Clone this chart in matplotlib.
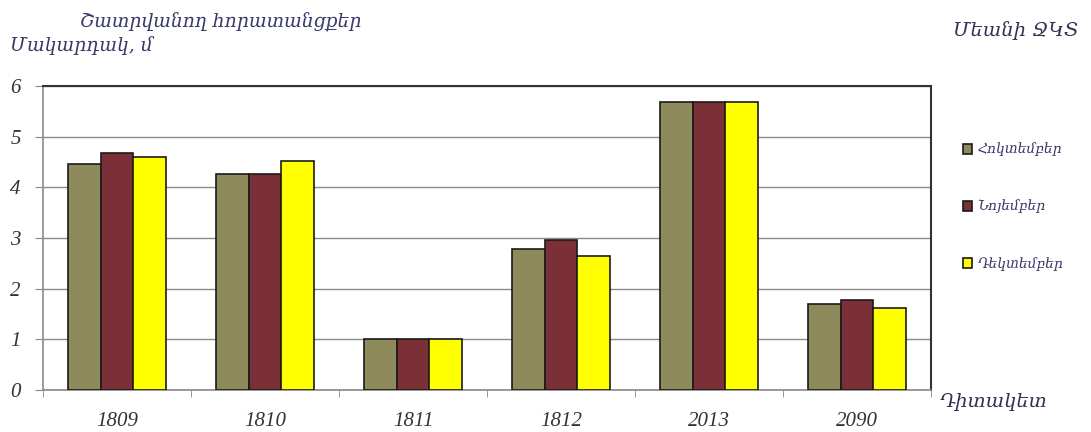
import matplotlib
matplotlib.use("Agg")
import matplotlib.pyplot as plt
import numpy as np
from matplotlib.patches import Patch

categories = ["1809", "1810", "1811", "1812", "2013", "2090"]
october = [4.47, 4.26, 1.0, 2.79, 5.68, 1.70]
november = [4.67, 4.26, 1.0, 2.97, 5.68, 1.77]
december = [4.59, 4.51, 1.0, 2.65, 5.68, 1.62]
series_labels = ["Հոկտեմբեր", "Նոյեմբեր", "Դեկտեմբեր"]
colors = ["#8E8A5C", "#7A3036", "#FFFF00"]
yticks = [0, 1, 2, 3, 4, 5, 6]

fig = plt.figure(figsize=(10.91, 4.32), dpi=100)
ax = fig.add_axes([43/1091, 1-390/432, (931-43)/1091, (390-86)/432])

arm = ["DejaVu Serif", "DejaVu Sans"]
numfont = "Liberation Serif"
txtcol = "#3a3a6a"

x = np.arange(len(categories))
w = 0.222
for i, (vals, c) in enumerate(zip([october, november, december], colors)):
    ax.bar(x + (i - 1) * w, vals, width=w, color=c, edgecolor="#1a1a1a", linewidth=1.2, zorder=3)

ax.set_xlim(-0.5, len(categories) - 0.5)
ax.set_ylim(0, 6)
ax.set_yticks(yticks)
ax.set_yticklabels([str(t) for t in yticks], fontfamily=numfont, fontstyle="italic", fontsize=15, color="#333333")
ax.set_xticks(x)
ax.set_xticklabels(categories, fontfamily=numfont, fontstyle="italic", fontsize=15, color="#333333")
ax.tick_params(axis="x", which="major", length=0, pad=16)
ax.set_xticks(np.arange(-0.5, len(categories), 1.0), minor=True)
ax.tick_params(axis="x", which="minor", length=5, color="#888888", direction="out")
ax.tick_params(axis="y", length=6, color="#888888", pad=10)

ax.grid(axis="y", color="#8a8a8a", linewidth=1.0, zorder=0)
for s in ["left", "bottom"]:
    ax.spines[s].set_color("#8a8a8a")
    ax.spines[s].set_linewidth(1.2)
for s in ["top", "right"]:
    ax.spines[s].set_color("#333333")
    ax.spines[s].set_linewidth(1.5)

fig.text(80/1091, 1-22/432, "Շատրվանող հորատանցքեր", family=arm, style="italic", fontsize=13.5, color=txtcol, va="center")
fig.text(10/1091, 1-46/432, "Մակարդակ, մ", family=arm, style="italic", fontsize=13.5, color=txtcol, va="center")
fig.text(1078/1091, 1-31/432, "Մեանի ՋԿՏ", family=arm, style="italic", fontsize=14, color="#333355", va="center", ha="right")
fig.text(940/1091, 1-402/432, "Դիտակետ", family=arm, style="italic", fontsize=14, color="#333355", va="center")

handles = [Patch(facecolor=c, edgecolor="#1a1a1a", linewidth=1.2) for c in colors]
leg = fig.legend(handles, series_labels, loc="upper left", bbox_to_anchor=(950/1091, 1-130/432),
                 frameon=False, handlelength=0.7, handleheight=0.7, handletextpad=0.4,
                 labelspacing=3.1, prop={"family": arm, "style": "italic", "size": 10})
for t in leg.get_texts():
    t.set_color(txtcol)

fig.savefig("out.png", dpi=100)
